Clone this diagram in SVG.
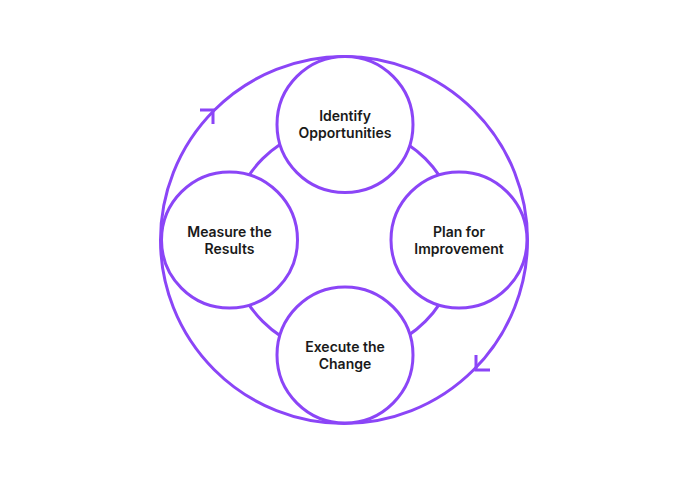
<svg xmlns="http://www.w3.org/2000/svg" width="690" height="480" viewBox="0 0 690 480">
<style>
.ln{fill:none;stroke:#8b45f7;stroke-width:3;}
.node{fill:#ffffff;stroke:#8b45f7;stroke-width:3;}
.t{font-family:Inter,"Liberation Sans",sans-serif;font-weight:600;font-size:14px;fill:#1a1a1a;text-anchor:middle;}
</style>
<rect width="690" height="480" fill="#ffffff"/>
<g id="connectors">
<circle class="ln" cx="344" cy="240" r="183.5"/>
<circle class="ln" cx="344" cy="240" r="115"/>
<polyline class="ln" points="200,110 213,110 213,124"/>
<polyline class="ln" points="476,355 476,370 490,370"/>
</g>
<g id="identify">
<circle class="node" cx="345" cy="124.5" r="68"/>
<text class="t" x="345" y="121">Identify</text>
<text class="t" x="345" y="138">Opportunities</text>
</g>
<g id="plan">
<circle class="node" cx="459" cy="240" r="68"/>
<text class="t" x="459" y="237">Plan for</text>
<text class="t" x="459" y="254">Improvement</text>
</g>
<g id="execute">
<circle class="node" cx="345" cy="355" r="68"/>
<text class="t" x="345" y="352">Execute the</text>
<text class="t" x="345" y="369">Change</text>
</g>
<g id="measure">
<circle class="node" cx="229.5" cy="240" r="68"/>
<text class="t" x="229.5" y="237">Measure the</text>
<text class="t" x="229.5" y="254">Results</text>
</g>
</svg>
